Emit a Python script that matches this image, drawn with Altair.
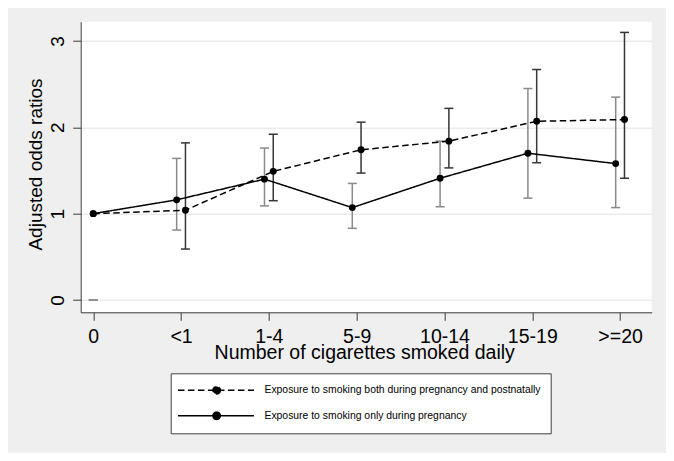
import json
import math
import altair as alt
import pandas as pd

categories = ["0", "<1", "1-4", "5-9", "10-14", "15-19", ">=20"]
series_names = [
    "Exposure to smoking both during pregnancy and postnatally",
    "Exposure to smoking only during pregnancy",
]
both_or = [1.00, 1.04, 1.49, 1.74, 1.84, 2.07, 2.09]
both_lo = [None, 0.59, 1.15, 1.47, 1.53, 1.59, 1.41]
both_hi = [None, 1.82, 1.92, 2.06, 2.22, 2.67, 3.10]
only_or = [1.00, 1.16, 1.40, 1.07, 1.41, 1.70, 1.58]
only_lo = [0.0, 0.81, 1.09, 0.83, 1.08, 1.18, 1.07]
only_hi = [0.0, 1.64, 1.76, 1.35, 1.84, 2.45, 2.35]

rows = []
for i, c in enumerate(categories):
    rows.append(dict(idx=i, cat=c, series=series_names[0], side=1,
                     orv=both_or[i], lo=both_lo[i], hi=both_hi[i]))
    rows.append(dict(idx=i, cat=c, series=series_names[1], side=-1,
                     orv=only_or[i], lo=only_lo[i], hi=only_hi[i]))
df = pd.DataFrame(rows)

# legend symbol: line with a filled dot (custom path; 1 unit = 6 px)
pts = []
for k in range(16):
    a = 2 * math.pi * k / 16
    pts.append(f"{4.825 + 0.62 * math.cos(a):.3f},{0.62 * math.sin(a):.3f}")
dot = "M" + "L".join(pts) + "Z"
sym_path = "M-1.625,0L11.04,0" + dot

FONT = "Liberation Sans"
label_expr = json.dumps(categories) + "[datum.value]"

xenc = alt.X(
    "xpos:Q",
    scale=alt.Scale(domain=[-0.143, 6.36], nice=False, zero=False),
    axis=alt.Axis(values=list(range(7)), labelExpr=label_expr,
                  title="Number of cigarettes smoked daily", grid=False,
                  tickSize=8, labelPadding=7.0, labelFontSize=19.5,
                  titleFontSize=19.5, titleX=283.5, titleY=30.8,
                  titleBaseline="top", titleAlign="center"),
)

yscale = alt.Scale(domain=[-0.143, 3.224], nice=False, zero=False)
yaxis = alt.Axis(values=[0, 1, 2, 3], title="Adjusted odds ratios", grid=True,
                 tickSize=8, labelPadding=9.4, labelAngle=270,
                 labelAlign="center", labelBaseline="alphabetic",
                 labelFontSize=19, titleFontSize=19, titleAngle=270,
                 titleX=-39.2, titleY=142.3, titleBaseline="alphabetic",
                 titleAlign="center")

base = alt.Chart(df).transform_calculate(
    xpos="datum.idx + (datum.idx == 0 ? 0 : datum.side * 0.05)"
)

# domain order differs from the strokeDash scale so the (disabled) colour
# legend is not merged with the line legend
ci_color = alt.Color("series:N", scale=alt.Scale(domain=series_names[::-1],
                     range=["#8a8a8a", "#363636"]), legend=None)

rules = base.mark_rule(strokeWidth=1.5).encode(
    x=xenc, y=alt.Y("lo:Q", scale=yscale, axis=yaxis), y2="hi:Q", color=ci_color)
caps_lo = base.mark_tick(orient="horizontal", size=9, thickness=1.5, opacity=1).encode(
    x=xenc, y=alt.Y("lo:Q", scale=yscale, axis=yaxis), color=ci_color)
caps_hi = base.mark_tick(orient="horizontal", size=9, thickness=1.5, opacity=1).encode(
    x=xenc, y=alt.Y("hi:Q", scale=yscale, axis=yaxis), color=ci_color)

lines = base.mark_line(color="black", strokeWidth=1.5).encode(
    x=xenc,
    y=alt.Y("orv:Q", scale=yscale, axis=yaxis),
    strokeDash=alt.StrokeDash(
        "series:N",
        scale=alt.Scale(domain=series_names, range=[[6.5, 3.5], [1, 0]]),
        legend=alt.Legend(
            title=None, orient="none", legendX=90, legendY=351.6,
            symbolType=sym_path, symbolSize=144, symbolStrokeWidth=1.5,
            symbolStrokeColor="black", symbolFillColor="black",
            labelExpr="datum.label + '      '",
            labelOffset=69.75, labelFontSize=10.4, labelFont=FONT,
            labelColor="black", labelLimit=500, padding=10,
            rowPadding=11.5, strokeColor="#404040", fillColor="white",
            cornerRadius=0,
        ),
    ),
    order="idx:Q",
)
points = base.mark_circle(size=48, color="black", opacity=1).encode(
    x=xenc, y=alt.Y("orv:Q", scale=yscale, axis=yaxis))

chart = alt.layer(rules, caps_lo, caps_hi, lines, points).properties(
    width=571, height=290.6,
    autosize=alt.AutoSizeParams(type="none"),
    padding={"left": 72.7, "top": 13.7, "right": 14.3, "bottom": 140.7},
    background="#efefef",
).configure(font=FONT).configure_view(stroke=None, fill="white").configure_axis(
    domainColor="#3a3a3a", tickColor="#3a3a3a", domainWidth=1, tickWidth=1,
    gridColor="#e2e2e2", gridWidth=1, labelColor="black", titleColor="black",
    labelFont=FONT, titleFont=FONT, titleFontWeight="normal",
).configure_legend(titleFontWeight="normal")

chart.save("out.html", embed_options={"renderer": "svg", "actions": False})
